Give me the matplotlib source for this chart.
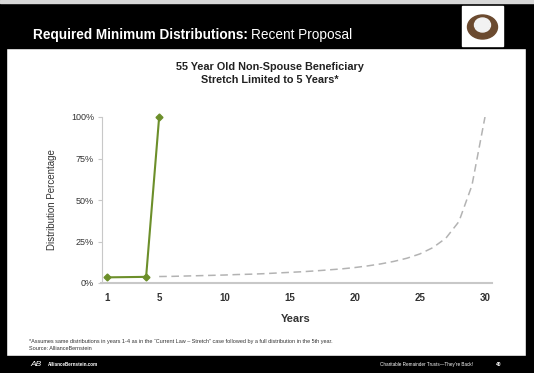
import matplotlib
matplotlib.use("Agg")
import matplotlib.pyplot as plt
from matplotlib.patches import Rectangle, Ellipse

plt.rcParams['font.family'] = ['Liberation Sans', 'DejaVu Sans']

# ---- data ----
proposal_years = [1, 4, 5]
proposal_pct = [3.4, 3.7, 100.0]

stretch_years = list(range(5, 31))
stretch_pct = [3.9, 4.0, 4.2, 4.4, 4.6, 4.8, 5.1, 5.3, 5.6, 6.0, 6.4, 6.8, 7.3,
               7.9, 8.5, 9.3, 10.3, 11.5, 13.0, 14.9, 17.5, 21.3, 27.0, 37.0,
               58.8, 100.0]

x_ticks = [1, 5, 10, 15, 20, 25, 30]
y_ticks = [0, 25, 50, 75, 100]
y_tick_labels = ['0%', '25%', '50%', '75%', '100%']

W, H = 534, 373
fig = plt.figure(figsize=(W / 100, H / 100), dpi=100)
fig.patch.set_facecolor('white')

def fx(px):
    return px / W

def fy(py):
    return 1 - py / H

# slide frame
fig.add_artist(Rectangle((0, fy(48)), 1, 48 / H, transform=fig.transFigure,
                         color='black', zorder=0))
fig.add_artist(Rectangle((0, fy(3)), 1, 3 / H, transform=fig.transFigure,
                         color='#d8d8d8', zorder=0.5))
fig.add_artist(Rectangle((0, 0), 1, 17 / H, transform=fig.transFigure,
                         color='black', zorder=0))
fig.add_artist(Rectangle((0, 0), 6 / W, 1, transform=fig.transFigure,
                         color='black', zorder=0))
fig.add_artist(Rectangle((fx(526), 0), 8 / W, 1, transform=fig.transFigure,
                         color='black', zorder=0))

# header title
t1 = fig.text(fx(33), fy(35), 'Required Minimum Distributions:', color='white',
              fontsize=9.8, fontweight='bold', va='center', ha='left')
fig.canvas.draw()
bb = t1.get_window_extent(renderer=fig.canvas.get_renderer())
x_end = fig.transFigure.inverted().transform((bb.x1, bb.y0))[0]
fig.text(x_end + 3 / W, fy(35), 'Recent Proposal', color='white',
         fontsize=9.8, va='center', ha='left')

# logo (nest with egg)
fig.add_artist(Rectangle((fx(462), fy(46)), 41 / W, 40 / H,
                         transform=fig.transFigure, color='white', zorder=1))
fig.add_artist(Ellipse((fx(482.5), fy(27)), 30 / W, 24 / H,
                       transform=fig.transFigure, color='#6b4a2f', zorder=2))
fig.add_artist(Ellipse((fx(482.5), fy(25)), 16 / W, 14 / H,
                       transform=fig.transFigure, color='#f2f2f2', zorder=3))

# chart title
fig.text(fx(270), fy(67), '55 Year Old Non-Spouse Beneficiary', fontsize=7.8,
         fontweight='bold', ha='center', va='center', color='#222222')
fig.text(fx(270), fy(80), 'Stretch Limited to 5 Years*', fontsize=7.8,
         fontweight='bold', ha='center', va='center', color='#222222')

# axes
ax = fig.add_axes([fx(100.5), fy(283), 391 / W, 166 / H])
ax.spines['left'].set_position(('data', 0.65))
ax.plot(stretch_years, stretch_pct, color='#b3b3b3', lw=1.1,
        linestyle=(0, (5, 3)), zorder=2)
ax.plot(proposal_years, proposal_pct, color='#6c8f2a', lw=1.5, marker='D',
        markersize=3.5, zorder=3, clip_on=False)

ax.set_xlim(0.5, 30.5)
ax.set_ylim(0, 100)
ax.set_xticks(x_ticks)
ax.set_xticklabels([str(t) for t in x_ticks])
ax.set_yticks(y_ticks)
ax.set_yticklabels(y_tick_labels)
ax.tick_params(axis='x', length=0, pad=7, labelsize=7, labelcolor='#333333')
for lab in ax.get_xticklabels():
    lab.set_fontweight('bold')
ax.tick_params(axis='y', length=3, color='#c8c8c8', width=0.8, pad=3,
               labelsize=6.5, labelcolor='#333333')
for s in ['top', 'right']:
    ax.spines[s].set_visible(False)
ax.spines['left'].set_color('#c8c8c8')
ax.spines['bottom'].set_color('#c8c8c8')
ax.spines['bottom'].set_linewidth(1.5)
ax.spines['left'].set_linewidth(0.8)
ax.set_xlabel('Years', fontsize=8, fontweight='bold', color='#333333',
              labelpad=8)
ax.set_ylabel('Distribution Percentage', fontsize=7, color='#333333',
              labelpad=10)

# footnotes
fig.text(fx(29), fy(341), '*Assumes same distributions in years 1-4 as in the '
         '\u201cCurrent Law \u2013 Stretch\u201d case followed by a full '
         'distribution in the 5th year.', fontsize=3.95, color='#333333',
         va='center')
fig.text(fx(29), fy(348), 'Source: AllianceBernstein', fontsize=3.95,
         color='#333333', va='center')

# footer
fig.text(fx(30), fy(364.5), 'AB', fontsize=6, color='white', va='center',
         style='italic')
fig.text(fx(48), fy(364.5), 'AllianceBernstein.com', fontsize=3.3,
         color='white', va='center', fontweight='bold')
fig.text(fx(380), fy(364.5), 'Charitable Remainder Trusts\u2014They\u2019re Back!',
         fontsize=3.3, color='white', va='center')
fig.text(fx(496), fy(364.5), '40', fontsize=3.5, color='white', va='center',
         fontweight='bold')

fig.savefig('out.png', dpi=100)
